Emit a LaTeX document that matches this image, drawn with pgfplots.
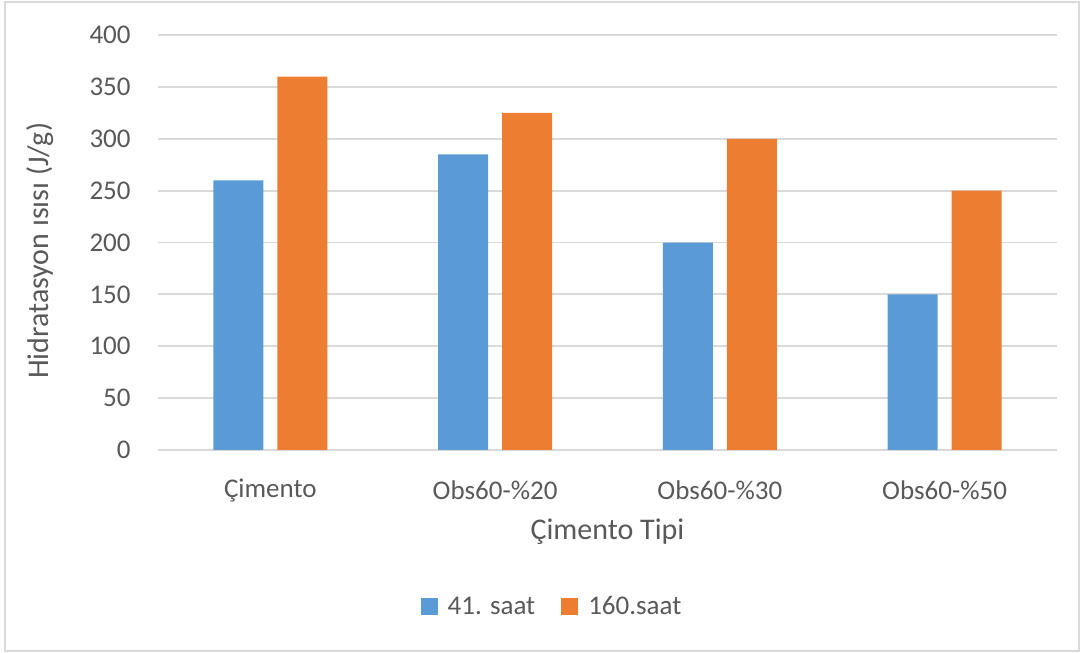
\documentclass[border=0pt]{standalone}
\usepackage{pgfplots}
\pgfplotsset{compat=1.18}
\usepackage{fontspec}
\setmainfont{Carlito}
\definecolor{cblue}{HTML}{5B9BD5}
\definecolor{corange}{HTML}{ED7D31}
\definecolor{ctext}{HTML}{595959}
\definecolor{cgrid}{HTML}{D9D9D9}
\begin{document}
\begin{tikzpicture}
\useasboundingbox (0,0) rectangle (543.5pt,326.5pt);
\draw[cgrid, line width=1pt] (2.5pt,1pt) rectangle (539.5pt,325.5pt);
\begin{axis}[
  at={(79pt,101.5pt)}, anchor=south west,
  scale only axis, width=449.5pt, height=207.5pt,
  ybar=7pt, bar width=25pt,
  xmin=-0.5, xmax=3.5, ymin=0, ymax=400,
  xtick={0,1,2,3},
  xticklabels={Çimento, Obs60-\%20, Obs60-\%30, Obs60-\%50},
  ytick={0,50,...,400},
  ymajorgrids, major grid style={cgrid, line width=0.9pt},
  axis line style={draw=none},
  tick style={draw=none},
  /pgf/number format/assume math mode=true,
  ticklabel style={font=\fontsize{13.5}{16}\selectfont, text=ctext},
  xticklabel style={anchor=center, yshift=-16pt},
  yticklabel style={anchor=east, inner sep=0pt, xshift=-13.5pt},
  xlabel={Çimento Tipi},
  ylabel={Hidratasyon ısısı (J/g)},
  label style={font=\fontsize{15}{18}\selectfont, text=ctext},
  xlabel style={at={(axis description cs:0.5,-0.198)}, anchor=center},
  ylabel style={at={(axis description cs:-0.1313,0.48)}, anchor=center},
  legend style={at={(axis description cs:0.4394,-0.378)}, anchor=center,
    draw=none, font=\fontsize{13.5}{16}\selectfont, text=ctext,
    legend columns=2,
    /tikz/every odd column/.append style={column sep=3pt},
    /tikz/every even column/.append style={column sep=11pt}},
  legend image code/.code={\fill[#1] (0pt,-4.25pt) rectangle (8.5pt,4.25pt);},
]
\addplot[fill=cblue, draw=none] coordinates {(0,260) (1,285) (2,200) (3,150)};
\addplot[fill=corange, draw=none] coordinates {(0,360) (1,325) (2,300) (3,250)};
\legend{41. saat, 160.saat}
\end{axis}
\end{tikzpicture}
\end{document}
